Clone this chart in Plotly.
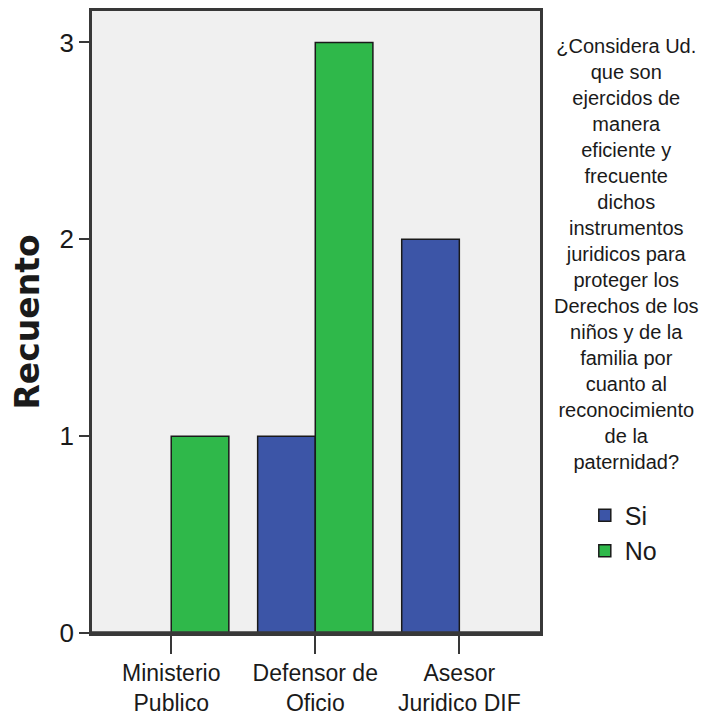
import plotly.graph_objects as go

categories = ["Ministerio<br>Publico", "Defensor de<br>Oficio", "Asesor<br>Juridico DIF"]
si_values = [0, 1, 2]
no_values = [1, 3, 0]
series_names = ["Si", "No"]
y_ticks = [0, 1, 2, 3]
legend_title = ("¿Considera Ud.<br>que son<br>ejercidos de<br>manera<br>eficiente y<br>frecuente<br>dichos<br>"
                "instrumentos<br>juridicos para<br>proteger los<br>Derechos de los<br>niños y de la<br>"
                "familia por<br>cuanto al<br>reconocimiento<br>de la<br>paternidad?")

FONT = "Liberation Sans, Arial, sans-serif"

fig = go.Figure()
fig.add_trace(go.Bar(x=categories, y=si_values, name=series_names[0],
                     marker=dict(color="#3c55a7", line=dict(color="#1a1a1a", width=1.5))))
fig.add_trace(go.Bar(x=categories, y=no_values, name=series_names[1],
                     marker=dict(color="#2fb84a", line=dict(color="#1a1a1a", width=1.5))))

fig.update_layout(
    width=702, height=709,
    margin=dict(l=84, r=170, t=0, b=84),
    paper_bgcolor="white",
    plot_bgcolor="#f0f0f0",
    barmode="group", bargap=0.2, bargroupgap=0,
    font=dict(family=FONT, size=22, color="#1a1a1a"),
    showlegend=True,
    legend=dict(x=1.10, y=0.226, xanchor="left", yanchor="top",
                font=dict(family=FONT, size=25, color="#1a1a1a"),
                bgcolor="rgba(0,0,0,0)"),
    annotations=[dict(text=legend_title, xref="paper", yref="paper", x=1.192, y=0.965,
                      xanchor="center", yanchor="top", showarrow=False, align="center",
                      font=dict(family=FONT, size=20, color="#1a1a1a"))],
)
fig.update_xaxes(
    type="category", range=[-0.55, 2.56],
    showline=True, linecolor="#383838", linewidth=2.5, mirror=True,
    ticks="outside", ticklen=18, tickwidth=2, tickcolor="#383838",
    showgrid=False, tickfont=dict(family=FONT, size=23, color="#1a1a1a"),
)
fig.update_yaxes(
    range=[0, 3.16], tickvals=y_ticks,
    showline=True, linecolor="#383838", linewidth=2.5, mirror=True,
    ticks="outside", ticklen=10, tickwidth=2, tickcolor="#383838",
    showgrid=False, zeroline=False,
    tickfont=dict(family=FONT, size=26, color="#1a1a1a"),
    title=dict(text="<b>Recuento</b>", standoff=26,
               font=dict(family="DejaVu Sans, sans-serif", size=33, color="#1a1a1a")),
)
fig.add_shape(type="line", xref="paper", yref="y", x0=0, x1=1, y0=0, y1=0,
              line=dict(color="#383838", width=3.5))

fig.write_html("out.html")
